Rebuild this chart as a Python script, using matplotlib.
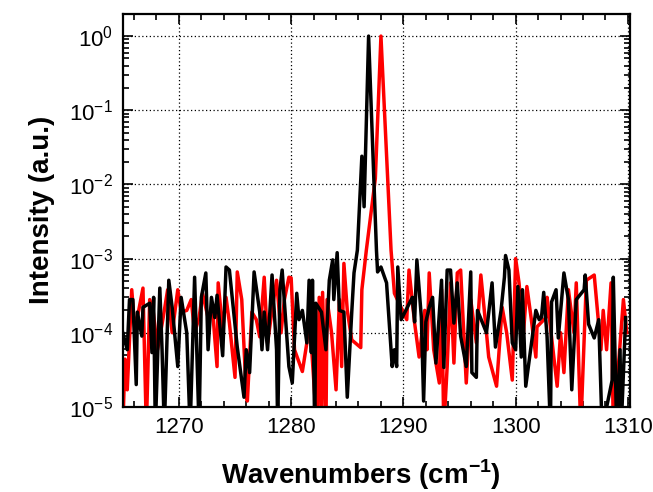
import numpy as np
import matplotlib.pyplot as plt
from matplotlib.ticker import MultipleLocator, LogLocator

plt.rcParams['font.family'] = ['Liberation Sans', 'DejaVu Sans']
plt.rcParams['mathtext.fontset'] = 'custom'
plt.rcParams['mathtext.rm'] = 'Liberation Sans'
plt.rcParams['mathtext.bf'] = 'Liberation Sans:bold'
plt.rcParams['axes.unicode_minus'] = False

floor = 5e-6  # points that drop off the bottom of the plot

# black spectrum
wn_black = [1265.0, 1265.4, 1265.6, 1265.9, 1266.2, 1266.3, 1266.7, 1266.8, 1267.4, 1267.6,
            1267.75, 1267.9, 1268.3, 1268.5, 1268.7, 1269.1, 1269.4, 1269.9, 1270.2, 1270.7,
            1271.0, 1271.4, 1271.8, 1272.0, 1272.4, 1272.6, 1272.9, 1273.2, 1273.4, 1273.9,
            1274.2, 1274.5, 1275.2, 1275.8, 1276.0, 1276.3, 1276.7, 1277.2, 1277.4, 1277.6,
            1277.9, 1278.3, 1278.7, 1278.8, 1279.0, 1279.2, 1279.8, 1280.1, 1280.5, 1280.7,
            1281.0, 1281.4, 1281.6, 1281.8, 1281.9, 1282.1, 1282.2, 1282.7, 1283.1, 1283.4,
            1283.7, 1283.8, 1284.1, 1284.3, 1284.7, 1285.0, 1285.4, 1285.6, 1285.9, 1286.3,
            1286.5, 1286.9, 1287.6, 1287.7, 1288.0, 1288.5, 1289.0, 1289.2, 1289.4, 1289.5,
            1289.8, 1290.8, 1291.0, 1291.2, 1291.6, 1291.8, 1292.0, 1292.3, 1292.6, 1292.9,
            1293.4, 1293.6, 1293.9, 1294.2, 1294.5, 1294.8, 1295.1, 1295.6, 1296.0, 1296.1,
            1296.5, 1296.6, 1297.4, 1297.9, 1298.2, 1298.7, 1299.0, 1299.1, 1299.4, 1299.7,
            1300.0, 1300.2, 1300.5, 1300.6, 1300.9, 1301.8, 1302.1, 1302.3, 1302.5, 1302.8,
            1303.1, 1303.2, 1303.6, 1303.8, 1304.3, 1304.7, 1305.0, 1305.4, 1306.1, 1306.2,
            1306.5, 1307.0, 1307.4, 1307.7, 1308.6, 1308.7, 1309.0, 1309.3, 1309.4, 1309.8]
int_black = [1.0e-4, 5.9e-5, 2.8e-4, 2.8e-4, 2.0e-5, 1.9e-4, 9.0e-5, 2.2e-4, 2.5e-4, 5.4e-5,
             3.0e-4, floor, 4.0e-4, 5.9e-5, floor, 5.1e-4, 2.2e-4, 3.5e-5, 3.0e-4, 1.0e-4,
             floor, 5.6e-4, floor, 3.0e-4, 6.4e-4, 5.9e-5, 3.0e-4, 1.6e-4, 3.2e-4, 4.9e-5,
             7.7e-4, 7.0e-4, 6.4e-5, 1.35e-5, 5.9e-5, 2.9e-5, 6.6e-4, 1.9e-4, 5.9e-5, 1.9e-4,
             5.9e-5, 6.0e-4, 5.9e-5, floor, 3.8e-4, 7.0e-4, 3.5e-5, 2.1e-5, 3.4e-4, 1.5e-4,
             2.0e-4, 7.3e-5, 5.1e-4, 5.4e-5, 5.1e-4, floor, 2.5e-4, 1.9e-4, 5.9e-5, 5.1e-4,
             9.6e-4, 2.8e-4, 1.2e-3, 2.0e-4, 1.9e-4, 1.35e-5, 1.9e-4, 6.4e-4, 1.3e-3, 2.4e-2,
             5.0e-3, 1.0, 1.3e-3, 6.6e-4, 7.7e-4, 4.7e-4, 3.5e-5, 5.9e-5, 3.5e-5, 7.7e-4,
             1.5e-4, 3.0e-4, 1.4e-4, 9.6e-4, 1.6e-4, 1.2e-5, 1.4e-4, 2.2e-4, 3.0e-4, 3.9e-5,
             5.1e-4, 3.4e-5, 7.0e-4, 7.0e-4, 1.35e-4, 4.7e-4, 9.0e-5, 3.5e-5, 6.6e-4, 2.9e-5,
             2.5e-5, 2.0e-4, 1.0e-4, 4.7e-4, 6.4e-5, 2.0e-4, 5.6e-4, 1.1e-3, 7.0e-4, 7.3e-5,
             5.9e-5, 4.2e-4, 4.7e-5, 3.8e-4, 1.9e-5, 2.0e-4, 1.5e-4, 1.6e-4, 3.5e-4, 8.8e-5,
             floor, 2.6e-4, 3.8e-4, 8.5e-5, 6.4e-4, 2.8e-4, 1.7e-5, 2.8e-4, 3.8e-4, 6.0e-4,
             1.3e-4, 8.5e-5, 1.5e-4, floor, 2.3e-5, 5.6e-4, floor, 5.9e-5, floor, 1.6e-4]

# red spectrum
wn_red = [1265.0, 1265.2, 1265.4, 1265.8, 1266.1, 1266.3, 1266.8, 1267.1, 1267.4, 1267.7,
          1268.1, 1268.6, 1269.0, 1269.4, 1269.9, 1270.2, 1270.7, 1271.1, 1271.4, 1271.8,
          1272.1, 1272.6, 1273.0, 1273.4, 1273.5, 1273.9, 1274.2, 1274.5, 1275.0, 1275.2,
          1275.6, 1276.0, 1276.1, 1276.5, 1276.9, 1277.2, 1277.6, 1277.9, 1278.3, 1278.7,
          1279.1, 1279.4, 1279.8, 1280.0, 1280.3, 1281.0, 1281.4, 1281.6, 1282.3, 1282.5,
          1282.7, 1282.8, 1283.1, 1283.2, 1283.6, 1284.0, 1284.3, 1284.5, 1284.7, 1285.0,
          1285.4, 1286.2, 1286.3, 1286.7, 1287.5, 1288.0, 1288.9, 1289.2, 1290.3, 1290.5,
          1291.0, 1291.4, 1291.9, 1292.1, 1292.3, 1292.7, 1293.2, 1293.4, 1293.6, 1293.9,
          1294.2, 1294.5, 1294.8, 1295.1, 1295.6, 1296.0, 1296.5, 1296.9, 1297.4, 1297.6,
          1298.3, 1298.8, 1299.2, 1299.7, 1300.0, 1300.3, 1300.7, 1301.0, 1301.4, 1301.8,
          1301.9, 1302.7, 1302.8, 1303.4, 1303.7, 1304.0, 1304.3, 1304.7, 1305.2, 1305.4,
          1305.8, 1306.3, 1307.0, 1307.6, 1307.8, 1308.1, 1308.5, 1308.7, 1309.2, 1309.6,
          1309.9]
int_red = [floor, 4.4e-5, 1.7e-5, 3.8e-4, 1.0e-4, 1.6e-4, 4.0e-4, floor, 2.8e-4, 2.0e-4,
           5.9e-5, 1.6e-4, 3.8e-4, 1.0e-4, 3.8e-4, 1.9e-4, 2.0e-4, 2.8e-4, 1.0e-4, 1.6e-4,
           3.4e-4, 1.6e-4, 2.0e-4, 3.5e-5, 4.7e-4, 1.1e-4, 3.0e-4, 1.35e-4, 2.5e-5, 6.6e-4,
           2.8e-4, 1.5e-5, 1.2e-5, 1.9e-4, 1.5e-4, 8.8e-5, 5.6e-4, 7.3e-5, 2.0e-4, 5.1e-4,
           1.0e-4, 2.8e-4, 5.6e-4, 5.5e-4, 5.9e-5, 3.0e-5, 7.3e-5, 2.0e-4, floor, 3.0e-4,
           floor, 3.5e-4, floor, 2.8e-4, 1.0e-4, 1.7e-5, 2.8e-4, 3.5e-5, 8.6e-4, 2.0e-4,
           8.0e-5, 6.3e-5, 3.8e-4, 1.3e-3, 1.2e-2, 1.0, 1.3e-3, 3.4e-4, 1.5e-4, 7.0e-4,
           1.35e-4, 4.7e-5, 2.0e-4, 5.9e-5, 6.4e-4, 5.9e-5, 2.1e-5, 3.8e-4, floor, 3.5e-5,
           4.7e-4, 3.9e-5, 6.4e-4, 7.0e-4, 2.1e-5, 2.8e-4, 7.3e-5, 6.0e-4, 1.0e-4, 4.7e-5,
           1.9e-5, 2.2e-4, 1.0e-4, 2.3e-5, 1.0e-3, 4.7e-4, 1.0e-4, 4.2e-4, 1.5e-4, 4.7e-5,
           1.2e-4, 1.6e-4, 3.0e-4, 4.7e-5, 1.9e-5, 1.0e-4, 2.9e-5, 3.8e-4, 1.0e-4, 4.7e-4,
           floor, 5.1e-4, 6.0e-4, 5.9e-5, 2.0e-4, 5.9e-5, 4.7e-4, floor, 4.4e-5, 2.8e-4,
           1.0e-4]

fig = plt.figure(figsize=(6.53, 4.92), dpi=100)
ax = fig.add_axes([0.188, 0.173, 0.777, 0.799])

ax.plot(wn_red, int_red, color='#ff0000', lw=2.5)
ax.plot(wn_black, int_black, color='black', lw=2.5)

ax.set_yscale('log')
ax.set_xlim(1265, 1310.2)
ax.set_ylim(1e-5, 2.0)

ax.xaxis.set_major_locator(MultipleLocator(10))
ax.xaxis.set_minor_locator(MultipleLocator(2))
ax.yaxis.set_major_locator(LogLocator(base=10, numticks=10))
ax.yaxis.set_minor_locator(LogLocator(base=10, subs=np.arange(2, 10), numticks=20))

ax.grid(True, which='major', color='black', ls=(0, (1, 2)), lw=0.9)
ax.tick_params(which='both', direction='in', top=True, right=True, width=1.2, labelsize=16)
ax.tick_params(which='major', length=7, pad=7)
ax.tick_params(which='minor', length=4)
for s in ax.spines.values():
    s.set_linewidth(1.6)

ax.set_xlabel('Wavenumbers (cm$^{\\mathbf{-1}}$)', fontsize=20, fontweight='bold', labelpad=14)
ax.xaxis.label.set_x(0.47)
ax.set_ylabel('Intensity (a.u.)', fontsize=20, fontweight='bold', labelpad=10)

fig.savefig('out.png', dpi=100)
